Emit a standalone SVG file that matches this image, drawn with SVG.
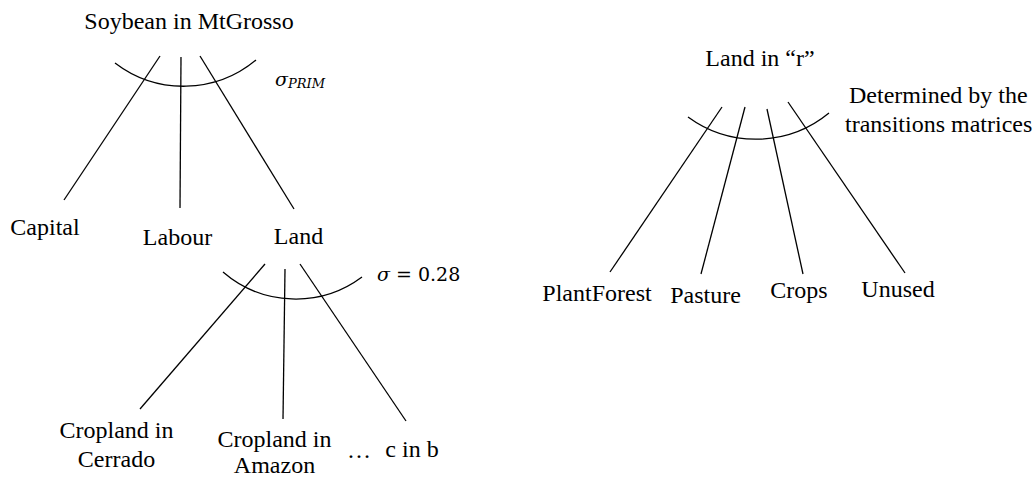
<svg xmlns="http://www.w3.org/2000/svg" width="1035" height="478" viewBox="0 0 1035 478">
  <style>
    text { font-family: "Liberation Serif", "Times New Roman", serif; font-size: 24px; fill: #000; }
    .mid { text-anchor: middle; }
    .math { font-family: "DejaVu Serif", "Liberation Serif", serif; font-style: italic; font-size: 19px; }
    .sub { font-size: 13px; }
    .up { font-style: normal; }
    .conn line, .conn path { stroke: #000; stroke-width: 1.3; fill: none; }
  </style>
  <rect width="1035" height="478" fill="#fff"/>

  <!-- connectors: branch lines and elasticity arcs -->
  <g id="connectors" class="conn">
    <!-- Soybean in MtGrosso -->
    <line x1="160" y1="56" x2="64" y2="200"/>
    <line x1="181" y1="57" x2="180" y2="208"/>
    <line x1="200" y1="56" x2="294" y2="209"/>
    <path d="M115,63 A113,113 0 0 0 256,60"/>
    <!-- Land -->
    <line x1="265" y1="264" x2="140" y2="409"/>
    <line x1="285" y1="269" x2="283" y2="419"/>
    <line x1="300" y1="264" x2="406" y2="421"/>
    <path d="M223,272 A111,111 0 0 0 362,277"/>
    <!-- Land in "r" -->
    <line x1="722" y1="107" x2="610" y2="272"/>
    <line x1="745" y1="107" x2="701" y2="274"/>
    <line x1="767" y1="109" x2="803" y2="274"/>
    <line x1="788" y1="102" x2="905" y2="273"/>
    <path d="M688,117 A115,115 0 0 0 829,113"/>
  </g>

  <g id="soybean"><text class="mid" x="189" y="29">Soybean in MtGrosso</text></g>
  <g id="sigma-prim"><text class="math" x="275" y="86">σ<tspan class="sub" dy="2">PRIM</tspan></text></g>
  <g id="capital"><text class="mid" x="45" y="235">Capital</text></g>
  <g id="labour"><text class="mid" x="177.5" y="245">Labour</text></g>
  <g id="land"><text class="mid" x="298.5" y="244">Land</text></g>
  <g id="sigma-land"><text class="math" x="377" y="281">σ <tspan class="up">= 0.28</tspan></text></g>
  <g id="cerrado"><text class="mid" x="116.5" y="438">Cropland in</text><text class="mid" x="116.5" y="467">Cerrado</text></g>
  <g id="amazon"><text class="mid" x="274.5" y="447">Cropland in</text><text class="mid" x="274.5" y="473">Amazon</text></g>
  <g id="ellipsis"><text x="347" y="458">…</text></g>
  <g id="c-in-b"><text class="mid" x="412" y="457">c in b</text></g>

  <g id="land-r"><text class="mid" x="760" y="66">Land in “r”</text></g>
  <g id="transitions"><text x="849" y="103">Determined by the</text><text x="845" y="132">transitions matrices</text></g>
  <g id="plantforest"><text class="mid" x="597" y="301">PlantForest</text></g>
  <g id="pasture"><text class="mid" x="705.5" y="303">Pasture</text></g>
  <g id="crops"><text class="mid" x="799" y="298">Crops</text></g>
  <g id="unused"><text class="mid" x="898" y="297">Unused</text></g>
</svg>
